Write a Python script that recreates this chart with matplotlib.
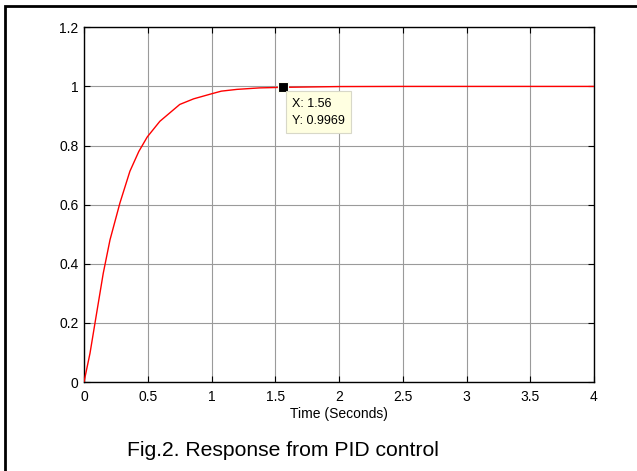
import matplotlib
matplotlib.use("Agg")
import matplotlib.pyplot as plt
from matplotlib.patches import Rectangle

plt.rcParams['font.family'] = ['Liberation Sans', 'DejaVu Sans']

# Step response data
t = [0, 0.047, 0.086, 0.151, 0.204, 0.282, 0.36, 0.43, 0.496, 0.595, 0.751,
     0.86, 1.0, 1.077, 1.2, 1.377, 1.56, 2.0, 2.5, 3.0, 3.5, 4.0]
y = [0, 0.097, 0.199, 0.368, 0.481, 0.606, 0.713, 0.78, 0.829, 0.882, 0.939,
     0.958, 0.975, 0.984, 0.990, 0.995, 0.9969, 0.9995, 1.0, 1.0, 1.0, 1.0]

tip_x = 1.56
tip_y = 0.9969

xticks = [0, 0.5, 1, 1.5, 2, 2.5, 3, 3.5, 4]
xticklabels = ['0', '0.5', '1', '1.5', '2', '2.5', '3', '3.5', '4']
yticks = [0, 0.2, 0.4, 0.6, 0.8, 1.0, 1.2]
yticklabels = ['0', '0.2', '0.4', '0.6', '0.8', '1', '1.2']

xlabel = 'Time (Seconds)'
caption = 'Fig.2. Response from PID control'

W, H = 637, 471
fig = plt.figure(figsize=(W / 100, H / 100), dpi=100)
ax = fig.add_axes([84 / W, 1 - 382 / H, (594 - 84) / W, (382 - 27.3) / H])

ax.plot(t, y, color='red', lw=1.0, zorder=3)
ax.plot([tip_x], [tip_y], marker='s', ms=7, color='black', mec='#fffff0', mew=0.8,
        zorder=5, clip_on=False)
ax.annotate(f'X: {tip_x}\nY: {tip_y}', xy=(tip_x, tip_y), xytext=(6.8, -7.4),
            textcoords='offset points', ha='left', va='top', fontsize=9,
            linespacing=1.55,
            bbox=dict(boxstyle='square,pad=0.5', fc='#ffffe1', ec='#d8d8c8', lw=0.8),
            zorder=6)

ax.set_xlim(0, 4)
ax.set_ylim(0, 1.2)
ax.set_xticks(xticks)
ax.set_xticklabels(xticklabels)
ax.set_yticks(yticks)
ax.set_yticklabels(yticklabels)
ax.tick_params(direction='in', length=4, width=0.8, labelsize=10, top=True, right=True,
               color='black', pad=4)
ax.tick_params(axis='x', pad=6)
ax.grid(True, color='#9a9a9a', lw=0.8)
ax.set_axisbelow(True)
for s in ax.spines.values():
    s.set_linewidth(1.0)
    s.set_color('black')

ax.set_xlabel(xlabel, fontsize=10, labelpad=2)

fig.text(127 / W, 1 - 456 / H, caption, fontsize=15.2, ha='left', va='baseline')

# outer frame (top and left edges visible)
fig.add_artist(Rectangle((4.5 / W, -0.2), 1.2, 0.2 + 1 - 6 / H, transform=fig.transFigure,
                         fill=False, ec='black', lw=2.0))

fig.savefig('out.png', dpi=100)
